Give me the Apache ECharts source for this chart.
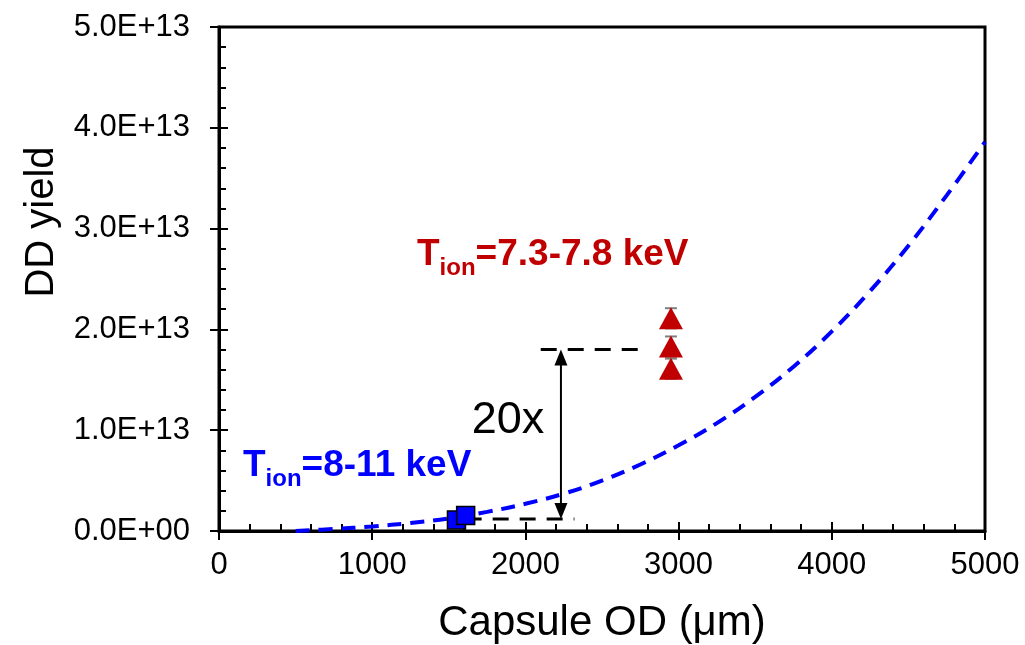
<!DOCTYPE html>
<html>
<head>
<meta charset="utf-8">
<script src="https://cdn.jsdelivr.net/npm/echarts@6/dist/echarts.min.js"></script>
<style>
  html, body { margin: 0; padding: 0; background: #fff; }
  #chart { width: 1025px; height: 645px; }
</style>
</head>
<body>
<div id="chart"></div>
<script>
// Axis tick labels
const xTickLabels = ['0', '1000', '2000', '3000', '4000', '5000'];
const yTickLabels = ['0.0E+00', '1.0E+13', '2.0E+13', '3.0E+13', '4.0E+13', '5.0E+13'];

// Yield scaling curve: capsule outer diameter (μm) vs DD yield
const curveOD    = [500, 750, 1000, 1250, 1500, 1750, 2000, 2250, 2500, 2750, 3000, 3250, 3500, 3750, 4000, 4250, 4500, 4750, 5000];
const curveYield = [0, 0.02e13, 0.045e13, 0.08e13, 0.125e13, 0.19e13, 0.27e13, 0.37e13, 0.50e13, 0.66e13, 0.85e13, 1.07e13, 1.33e13, 1.63e13, 1.98e13, 2.38e13, 2.83e13, 3.33e13, 3.86e13];

// Shots with T_ion = 8-11 keV (small capsules)
const smallOD    = [1550, 1610];
const smallYield = [0.11e13, 0.155e13];

// Shots with T_ion = 7.3-7.8 keV (large capsules)
const largeOD    = [2950, 2950, 2950];
const largeYield = [2.11e13, 1.83e13, 1.61e13];
const largeErr   = [0.1e13, 0.1e13, 0.1e13];

// Yield-gap guide lines and the double arrow between them
const upperGuideOD = [2100, 2750];
const upperGuideYield = 1.8e13;
const lowerGuideOD = [1610, 2320];
const lowerGuideYield = 0.12e13;
const gapArrowOD = 2232;

const FONT = "'Liberation Sans', Arial, sans-serif";
const BLACK = '#000000';
const BLUE = '#0000FF';
const RED = '#C00000';

const chart = echarts.init(document.getElementById('chart'));

const baseX = { type: 'value', min: 0, max: 5000, interval: 1000, gridIndex: 0, splitLine: { show: false } };
const baseY = { type: 'value', min: 0, max: 5e13, interval: 1e13, gridIndex: 0, splitLine: { show: false } };

chart.setOption({
  animation: false,
  backgroundColor: '#ffffff',
  grid: {
    left: 219, top: 27, width: 766, height: 504,
    outerBoundsMode: 'none',
    containLabel: false,
    show: true, borderColor: BLACK, borderWidth: 3, backgroundColor: 'transparent'
  },
  xAxis: [
    Object.assign({}, baseX, {
      position: 'bottom',
      axisLine: { onZero: false, lineStyle: { color: BLACK, width: 3 } },
      axisTick: { length: 9, lineStyle: { color: BLACK, width: 2 } },
      axisLabel: {
        formatter: v => xTickLabels[Math.round(v / 1000)],
        fontSize: 31, fontFamily: FONT, color: BLACK, margin: 19
      },
      name: 'Capsule OD (\u03bcm)',
      nameLocation: 'middle',
      nameGap: 71,
      nameTextStyle: { fontSize: 42, fontFamily: FONT, color: BLACK }
    }),
    Object.assign({}, baseX, {
      position: 'bottom',
      axisLine: { show: false, onZero: false },
      axisTick: { inside: true, length: 9, lineStyle: { color: BLACK, width: 2 } },
      minorTick: { show: true, splitNumber: 5, length: 7, lineStyle: { color: BLACK, width: 2 } },
      axisLabel: { show: false }
    })
  ],
  yAxis: [
    Object.assign({}, baseY, {
      position: 'left',
      axisLine: { onZero: false, lineStyle: { color: BLACK, width: 3 } },
      axisTick: { length: 9, lineStyle: { color: BLACK, width: 2 } },
      axisLabel: {
        formatter: v => yTickLabels[Math.round(v / 1e13)],
        fontSize: 31, fontFamily: FONT, color: BLACK, margin: 29
      }
    }),
    Object.assign({}, baseY, {
      position: 'left',
      axisLine: { show: false, onZero: false },
      axisTick: { inside: true, length: 9, lineStyle: { color: BLACK, width: 2 } },
      minorTick: { show: true, splitNumber: 5, length: 7, lineStyle: { color: BLACK, width: 2 } },
      axisLabel: { show: false }
    })
  ],
  graphic: [
    {
      type: 'text', x: 42, y: 222, rotation: Math.PI / 2,
      style: { text: 'DD yield', font: '40px ' + FONT, fill: BLACK, align: 'center', verticalAlign: 'middle' }
    },
    {
      type: 'text', x: 0, y: 0,
      style: {
        x: 417, y: 255, verticalAlign: 'middle', align: 'left',
        text: '{m|T}{s|ion}{m|=7.3-7.8 keV}',
        rich: {
          m: { fontSize: 37, fontWeight: 'bold', fontFamily: FONT, fill: RED, lineHeight: 50 },
          s: { fontSize: 24, fontWeight: 'bold', fontFamily: FONT, fill: RED, lineHeight: 24, verticalAlign: 'bottom' }
        }
      }
    },
    {
      type: 'text', x: 0, y: 0,
      style: {
        x: 243, y: 466, verticalAlign: 'middle', align: 'left',
        text: '{m|T}{s|ion}{m|=8-11 keV}',
        rich: {
          m: { fontSize: 37, fontWeight: 'bold', fontFamily: FONT, fill: BLUE, lineHeight: 50 },
          s: { fontSize: 24, fontWeight: 'bold', fontFamily: FONT, fill: BLUE, lineHeight: 24, verticalAlign: 'bottom' }
        }
      }
    },
    {
      type: 'text', x: 0, y: 0,
      style: { x: 508, y: 421, text: '20x', font: '45px ' + FONT, fill: BLACK, align: 'center', verticalAlign: 'middle' }
    }
  ],
  series: [
    {
      name: 'scaling',
      type: 'line',
      smooth: 0.4,
      showSymbol: false,
      symbol: 'none',
      z: 2,
      lineStyle: { color: BLUE, width: 4, type: [14, 9] },
      data: curveOD.map((x, i) => [x, curveYield[i]])
    },
    {
      name: 'upper guide',
      type: 'line',
      symbol: 'none',
      z: 3,
      lineStyle: { color: BLACK, width: 3, type: [16, 11] },
      data: upperGuideOD.map(x => [x, upperGuideYield])
    },
    {
      name: 'lower guide',
      type: 'line',
      symbol: 'none',
      z: 3,
      lineStyle: { color: BLACK, width: 3, type: [16, 11] },
      data: lowerGuideOD.map(x => [x, lowerGuideYield])
    },
    {
      name: 'gap arrow',
      type: 'custom',
      z: 4,
      renderItem: (params, api) => {
        const top = api.coord([api.value(0), api.value(2)]);
        const bot = api.coord([api.value(0), api.value(1)]);
        const hw = 6.5, hl = 16;
        return {
          type: 'group',
          children: [
            { type: 'line', shape: { x1: top[0], y1: top[1] + hl - 1, x2: bot[0], y2: bot[1] - hl + 1 },
              style: { stroke: BLACK, lineWidth: 2 } },
            { type: 'polygon', shape: { points: [[top[0], top[1]], [top[0] - hw, top[1] + hl], [top[0] + hw, top[1] + hl]] },
              style: { fill: BLACK } },
            { type: 'polygon', shape: { points: [[bot[0], bot[1]], [bot[0] - hw, bot[1] - hl], [bot[0] + hw, bot[1] - hl]] },
              style: { fill: BLACK } }
          ]
        };
      },
      data: [[gapArrowOD, lowerGuideYield, upperGuideYield]]
    },
    {
      name: 'error bars',
      type: 'custom',
      z: 5,
      renderItem: (params, api) => {
        const x = api.value(0), y = api.value(1), e = api.value(2);
        const top = api.coord([x, y + e]);
        const bot = api.coord([x, y - e]);
        const hw = 6;
        const st = { stroke: '#7F7F7F', lineWidth: 2 };
        return {
          type: 'group',
          children: [
            { type: 'line', shape: { x1: top[0], y1: top[1], x2: bot[0], y2: bot[1] }, style: st },
            { type: 'line', shape: { x1: top[0] - hw, y1: top[1], x2: top[0] + hw, y2: top[1] }, style: st },
            { type: 'line', shape: { x1: bot[0] - hw, y1: bot[1], x2: bot[0] + hw, y2: bot[1] }, style: st }
          ]
        };
      },
      data: largeOD.map((x, i) => [x, largeYield[i], largeErr[i]])
    },
    {
      name: 'T_ion 7.3-7.8 keV',
      type: 'scatter',
      symbol: 'triangle',
      symbolSize: [24, 22],
      z: 6,
      itemStyle: { color: RED, opacity: 1 },
      data: largeOD.map((x, i) => [x, largeYield[i]])
    },
    {
      name: 'T_ion 8-11 keV',
      type: 'scatter',
      symbol: 'rect',
      symbolSize: 18,
      z: 6,
      itemStyle: { color: BLUE, borderColor: BLACK, borderWidth: 1.5, opacity: 1 },
      data: smallOD.map((x, i) => [x, smallYield[i]])
    }
  ]
});
</script>
</body>
</html>
